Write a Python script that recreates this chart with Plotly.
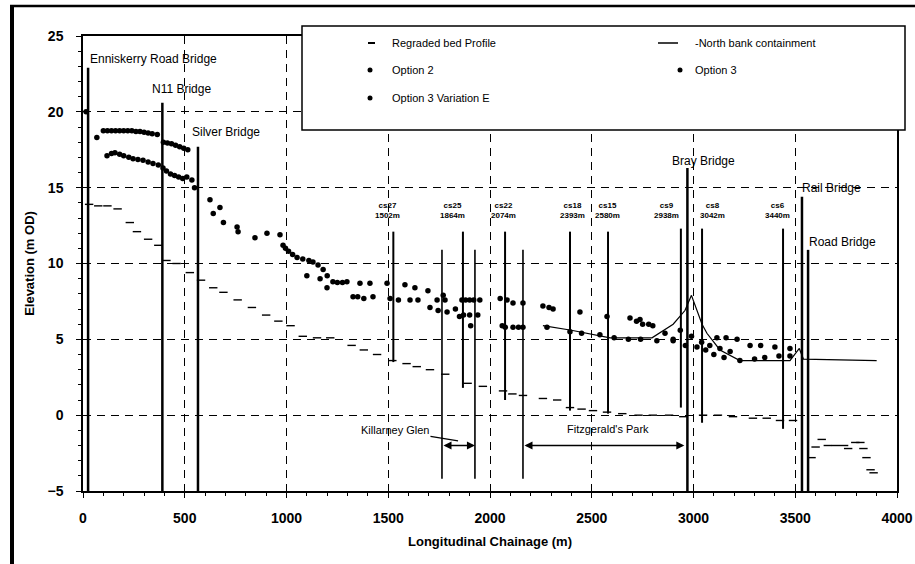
import plotly.graph_objects as go

# ---------------- data ----------------
bed_x = [30, 75, 120, 170, 230, 265, 320, 370, 410, 460, 525, 580, 640, 690, 760, 830, 900, 960,
         1020, 1080, 1150, 1215, 1320, 1380, 1445, 1520, 1590, 1640, 1705, 1780, 1890, 1965, 2064,
         2110, 2162, 2260, 2330, 2393, 2450, 2506, 2575, 2650, 2730, 2800, 2880, 2950, 3047, 3120,
         3194, 3292, 3360, 3425, 3489, 3580, 3600, 3630, 3660, 3700, 3740, 3760, 3795, 3820, 3835,
         3850, 3870, 3885]
bed_y = [13.9, 13.8, 13.8, 13.6, 12.7, 12.1, 11.6, 11.2, 10.2, 10.0, 9.4, 8.9, 8.4, 8.1, 7.6, 7.1, 6.6, 6.2,
         5.9, 5.2, 5.1, 5.1, 4.6, 4.3, 4.0, 3.6, 3.4, 3.2, 3.0, 2.7, 2.1, 1.9, 1.6,
         1.4, 1.3, 1.1, 1.0, 0.5, 0.4, 0.3, 0.2, 0.1, 0.0, 0.0, 0.0, -0.1, 0.0, 0.0,
         -0.1, -0.2, -0.2, -0.35, -0.35, -2.8, -2.1, -1.6, -2.0, -2.0, -2.0, -2.2, -1.8, -1.8, -2.2,
         -2.8, -3.6, -3.8]

nb_x = [2260, 2400, 2590, 2796, 2900, 2958, 2990, 3042, 3066, 3130, 3228, 3474, 3520, 3540, 3900]
nb_y = [5.9, 5.6, 5.1, 5.1, 6.0, 6.9, 7.9, 6.0, 5.4, 4.3, 3.6, 3.6, 4.4, 3.7, 3.6]

opt2_x = [15, 68, 100, 120, 140, 160, 180, 200, 220, 240, 260, 280, 300, 320, 340, 365,
          395, 415, 435, 455, 475, 495, 515,
          624, 673, 757, 845, 904, 968, 983, 995, 1010, 1030, 1052, 1080, 1110, 1130, 1155, 1180,
          1200, 1228, 1250, 1275, 1297, 1361, 1410, 1494, 1582, 1631, 1695, 1770, 1862, 1880,
          1900, 1920, 1950, 2050, 2113, 2162, 2260, 2290, 2310, 2442, 2575, 2688, 2720, 2750,
          2800, 2935, 3115, 3160, 3214, 3278, 3330, 3400, 3474]
opt2_y = [20.0, 18.3, 18.75, 18.75, 18.75, 18.75, 18.75, 18.75, 18.75, 18.75, 18.7, 18.7, 18.65, 18.6, 18.55, 18.5,
          18.0, 17.95, 17.9, 17.8, 17.7, 17.6, 17.5,
          14.2, 13.7, 12.4, 11.7, 12.0, 11.9, 11.2, 11.0, 10.8, 10.6, 10.4, 10.3, 10.2, 10.1, 9.9, 9.6,
          9.2, 8.8, 8.75, 8.75, 8.8, 8.7, 8.7, 8.7, 8.6, 8.4, 8.2, 7.9, 7.6, 7.6,
          7.6, 7.6, 7.6, 7.7, 7.4, 7.4, 7.2, 7.1, 7.0, 6.8, 6.5, 6.4, 6.2, 6.0,
          5.9, 5.6, 5.1, 5.1, 5.0, 4.6, 4.6, 4.5, 4.4]

opt3_x = [118, 140, 157, 180, 200, 225, 246, 270, 295, 320, 344, 370,
          393, 410, 430, 450, 470, 490, 510, 535, 548,
          640, 690, 762, 1100, 1165, 1199, 1327, 1350, 1380, 1425, 1509, 1550, 1607, 1646, 1705,
          1740, 1745, 1779, 1789, 1870, 1900, 1940, 1905, 2084, 2113, 2140, 2162, 2280, 2393,
          2450, 2540, 2610, 2680, 2740, 2820, 2900, 2960, 3017, 3060, 3100, 3150, 3228, 3300,
          3350, 3420, 3474]
opt3_y = [17.1, 17.25, 17.3, 17.2, 17.1, 17.0, 16.9, 16.85, 16.8, 16.7, 16.6, 16.5,
          16.3, 16.1, 15.9, 15.8, 15.7, 15.6, 15.7, 15.5, 15.0,
          13.3, 12.7, 12.1, 9.2, 9.0, 8.4, 7.8, 7.8, 7.7, 7.8, 7.7, 7.6, 7.6, 7.6, 7.1,
          7.6, 6.9, 7.6, 6.8, 6.6, 6.6, 6.6, 5.9, 7.6, 5.8, 5.8, 5.8, 5.8, 5.5,
          5.4, 5.3, 5.1, 5.0, 5.0, 4.9, 4.9, 4.6, 4.5, 4.3, 4.0, 3.8, 3.6, 3.7,
          3.8, 3.9, 3.9]

opt3e_x = [1830, 1850, 2060, 2075, 2737, 2780, 2860, 2900, 2990, 3040, 3080, 3130, 3180]
opt3e_y = [7.0, 6.5, 5.9, 5.8, 6.3, 6.0, 5.4, 5.0, 5.2, 4.8, 4.6, 4.4, 4.2]

bridge_names = ["Enniskerry Road Bridge", "N11 Bridge", "Silver Bridge", "Bray Bridge", "Rail Bridge", "Road Bridge"]
bridge_x = [25, 390, 565, 2970, 3533, 3563]
bridge_top = [22.9, 20.6, 17.7, 16.3, 14.4, 10.9]
bed_bottom = -5

cs_names = ["cs27", "cs25", "cs22", "cs18", "cs15", "cs9", "cs8", "cs6"]
cs_chain = ["1502m", "1864m", "2074m", "2393m", "2580m", "2938m", "3042m", "3440m"]
cs_x = [1525, 1867, 2074, 2393, 2580, 2938, 3042, 3440]
cs_top = [12.1, 12.1, 12.1, 12.1, 12.1, 12.3, 12.3, 12.3]
cs_bottom = [3.5, 1.8, 1.0, 0.3, 0.1, 0.5, -0.5, -0.9]

reach_names = ["Killarney Glen", "Fitzgerald's Park"]
reach_start = [1764, 2162]
reach_end = [1926, 2955]
reach_level = [-2.0, -2.0]
boundary_x = [1764, 1926, 2162]
boundary_top = [10.9, 10.9, 10.9]
boundary_bottom = [-4.2, -4.2, -4.2]

# ---------------- figure ----------------
FONT = "Liberation Sans, Arial, sans-serif"
fig = go.Figure()


def vlines(xs, y0s, y1s, width):
    X, Y = [], []
    for x, a, b in zip(xs, y0s, y1s):
        X += [x, x, None]
        Y += [a, b, None]
    fig.add_trace(go.Scatter(x=X, y=Y, mode="lines", line=dict(color="black", width=width),
                             showlegend=False, hoverinfo="skip"))


vlines(bridge_x, [bed_bottom] * len(bridge_x), bridge_top, 2.5)
vlines(cs_x, cs_bottom, cs_top, 2)
vlines(boundary_x, boundary_bottom, boundary_top, 1.6)

fig.add_trace(go.Scatter(x=bed_x, y=bed_y, mode="markers", name="Regraded bed Profile",
                         marker=dict(symbol="line-ew", size=6, line=dict(color="black", width=1.4))))
fig.add_trace(go.Scatter(x=nb_x, y=nb_y, mode="lines", name="-North bank containment",
                         line=dict(color="black", width=1.2)))
fig.add_trace(go.Scatter(x=opt2_x, y=opt2_y, mode="markers", name="Option 2",
                         marker=dict(symbol="circle", size=5.5, color="black")))
fig.add_trace(go.Scatter(x=opt3_x, y=opt3_y, mode="markers", name="Option 3",
                         marker=dict(symbol="circle", size=5.5, color="black")))
fig.add_trace(go.Scatter(x=opt3e_x, y=opt3e_y, mode="markers", name="Option 3 Variation E",
                         marker=dict(symbol="circle", size=5.5, color="black")))

annotations = []
# bridge labels
bridge_lab_pos = [(25, 23.5), (329, 21.5), (526, 18.65), (2885, 16.75), (3523, 14.95), (3558, 11.4)]
for name, (lx, ly) in zip(bridge_names, bridge_lab_pos):
    annotations.append(dict(x=lx, y=ly, text=name, showarrow=False, xanchor="left", yanchor="middle",
                            font=dict(family=FONT, size=12, color="black")))
# cross-section labels
cs_shift = [-6, -10, -2, 3, -1, -14, 10, -6]
for n, c, x, s in zip(cs_names, cs_chain, cs_x, cs_shift):
    annotations.append(dict(x=x, y=13.5, text=f"<b>{n}<br>{c}</b>", showarrow=False, xshift=s,
                            font=dict(family=FONT, size=8, color="black")))
# reach arrows
for s, e, lv in zip(reach_start, reach_end, reach_level):
    annotations.append(dict(x=e, y=lv, ax=s, ay=lv, axref="x", ayref="y", xref="x", yref="y",
                            text="", showarrow=True, arrowhead=2, arrowside="end+start",
                            arrowsize=1, arrowwidth=1.6, arrowcolor="black"))
annotations.append(dict(x=1843, y=-1.7, ax=1533, ay=-1.0, axref="x", ayref="y",
                        text=reach_names[0], showarrow=True, arrowhead=0, arrowwidth=1.2,
                        arrowcolor="black", font=dict(family=FONT, size=11, color="black")))
annotations.append(dict(x=2580, y=-0.9, text=reach_names[1], showarrow=False,
                        font=dict(family=FONT, size=11, color="black")))

# manual legend (paper coordinates)
L = 83; W = 814; B = 491; H = 455
def px(p):
    return (p - L) / W
def py(p):
    return (B - p) / H

leg_rows = [43, 70, 98]
leg_items = [("Regraded bed Profile", 390, leg_rows[0]), ("-North bank containment", 693, leg_rows[0]),
             ("Option 2", 390, leg_rows[1]), ("Option 3", 693, leg_rows[1]),
             ("Option 3 Variation E", 390, leg_rows[2])]
for t, x0, y0 in leg_items:
    annotations.append(dict(xref="paper", yref="paper", x=px(x0), y=py(y0), text=t, showarrow=False,
                            xanchor="left", yanchor="middle",
                            font=dict(family=FONT, size=11, color="black")))

shapes = [
    dict(type="rect", xref="paper", yref="paper", x0=px(302), x1=px(905), y0=py(130), y1=py(26),
         line=dict(color="black", width=1.5), fillcolor="white", layer="above"),
    dict(type="line", xref="paper", yref="paper", x0=px(368), x1=px(375), y0=py(43), y1=py(43),
         line=dict(color="black", width=2)),
    dict(type="line", xref="paper", yref="paper", x0=px(658), x1=px(678), y0=py(43), y1=py(43),
         line=dict(color="black", width=1.5)),
    # outer frame (left and top)
    dict(type="line", xref="paper", yref="paper", x0=px(12), x1=px(12), y0=py(564), y1=py(6),
         line=dict(color="black", width=4)),
    dict(type="line", xref="paper", yref="paper", x0=px(10), x1=px(915), y0=py(6), y1=py(6),
         line=dict(color="black", width=2.5)),
]
for cx, cy in [(370, 70), (680, 70), (370, 98)]:
    shapes.append(dict(type="circle", xref="paper", yref="paper", xsizemode="pixel", ysizemode="pixel",
                       xanchor=px(cx), yanchor=py(cy), x0=-2.5, x1=2.5, y0=-2.5, y1=2.5,
                       fillcolor="black", line=dict(color="black", width=0)))

fig.update_layout(
    width=915, height=564,
    margin=dict(l=83, r=18, t=36, b=73),
    paper_bgcolor="white", plot_bgcolor="white",
    showlegend=False,
    font=dict(family=FONT, color="black"),
    annotations=annotations, shapes=shapes,
)
fig.update_xaxes(range=[0, 4000], dtick=500, tick0=0, automargin=False,
                 showline=True, mirror=True, linecolor="black", linewidth=1.5,
                 ticks="outside", ticklen=5, tickcolor="black", ticklabelstandoff=8,
                 showgrid=True, gridcolor="black", gridwidth=1, griddash="8px,6px",
                 zeroline=False,
                 minor=dict(dtick=100, ticks="outside", ticklen=3, tickcolor="black", showgrid=False),
                 tickfont=dict(family=FONT, size=14, color="black"),
                 title=dict(text="<b>Longitudinal Chainage (m)</b>", standoff=12,
                            font=dict(family=FONT, size=13, color="black")))
fig.update_yaxes(range=[-5, 25], dtick=5, tick0=0, automargin=False,
                 showline=True, mirror=True, linecolor="black", linewidth=1.5,
                 ticks="outside", ticklen=5, tickcolor="black", ticklabelstandoff=10,
                 showgrid=True, gridcolor="black", gridwidth=1, griddash="8px,6px",
                 zeroline=False,
                 minor=dict(dtick=1, ticks="outside", ticklen=3, tickcolor="black", showgrid=False),
                 tickfont=dict(family=FONT, size=14, color="black"),
                 title=dict(text="<b>Elevation (m OD)</b>", standoff=10,
                            font=dict(family=FONT, size=13, color="black")))
fig.update_xaxes(tickprefix="<b>", ticksuffix="</b>")
fig.update_yaxes(tickprefix="<b>", ticksuffix="</b>")

fig.write_html("out.html", config={"displayModeBar": False},
               post_script="document.body.style.margin='0px';")
